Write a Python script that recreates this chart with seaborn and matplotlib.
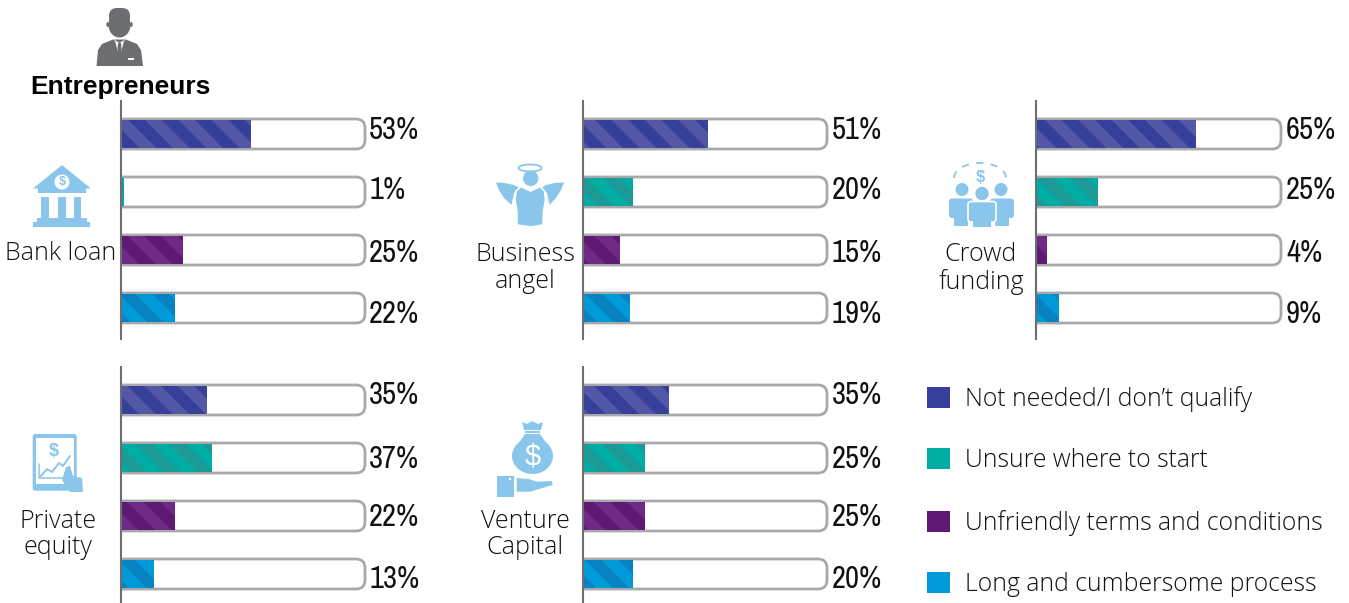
import numpy as np
import pandas as pd
import matplotlib
matplotlib.use("Agg")
import matplotlib.pyplot as plt
import matplotlib.hatch as mhatch
from matplotlib import font_manager as fm
from matplotlib.patches import Circle, Ellipse, Polygon, FancyBboxPatch, Rectangle, Arc, Patch
from matplotlib.path import Path
import seaborn as sns

# ---------- data ----------
reasons = ["Not needed/I don\u2019t qualify", "Unsure where to start",
           "Unfriendly terms and conditions", "Long and cumbersome process"]
bank_loan = [53, 1, 25, 22]
business_angel = [51, 20, 15, 19]
crowd_funding = [65, 25, 4, 9]
private_equity = [35, 37, 22, 13]
venture_capital = [35, 25, 25, 20]
title = "Entrepreneurs"
TRACK = 100

# ---------- style ----------
W, H = 1349, 603
fills = ["#36409A", "#00ADA3", "#5E1A73", "#009AD8"]
stripes = ["#5257A6", "#1B9A98", "#6F2A85", "#0783C2"]
ICON = "#8AC6EC"
GREY = "#6D6E71"
TRACKC = "#A7A9AC"
INK = "#111111"

sns.set_theme(style="white")
plt.rcParams["font.family"] = ["Liberation Sans", "DejaVu Sans"]
plt.rcParams["hatch.linewidth"] = 8.5

narrow = sorted({f.name for f in fm.fontManager.ttflist
                 if "narrow" in f.name.lower() or "condensed" in f.name.lower()})
cond = [f.name for f in fm.fontManager.ttflist
        if f.stretch in ("condensed", "semi-condensed", "extra-condensed", 75, 62, 87, 50)]
if narrow:
    VALUE_FONT = dict(family=[narrow[0], "Liberation Sans"], fontsize=22)
elif cond:
    VALUE_FONT = dict(family=[cond[0], "Liberation Sans"], stretch="condensed", fontsize=22)
else:
    VALUE_FONT = dict(family=["Liberation Sans"], fontsize=18.5)


class WideStripe(mhatch.HatchPatternBase):
    """Wide diagonal stripes, three per hatch tile."""
    def __init__(self, hatch, density):
        self.steps = np.arange(-6, 7) / 3 if "\\" in (hatch or "") else np.array([])
        self.num_vertices = len(self.steps) * 2

    def set_vertices_and_codes(self, vertices, codes):
        vertices[0::2, 0] = self.steps - 0.5
        vertices[0::2, 1] = 1.5
        vertices[1::2, 0] = self.steps + 1.5
        vertices[1::2, 1] = -0.5
        codes[0::2] = Path.MOVETO
        codes[1::2] = Path.LINETO


mhatch._hatch_types[:] = [WideStripe]

fig = plt.figure(figsize=(W / 100, H / 100), dpi=100, facecolor="white")


def panel(values, left, top, bottom, centre0, offsets, x_px, gap):
    width = TRACK * x_px + 2
    ax = fig.add_axes([left / W, 1 - bottom / H, width / W, (bottom - top) / H])
    frame = pd.DataFrame({"reason": reasons, "value": values})
    sns.barplot(data=frame, y="reason", x="value", hue="reason", hue_order=reasons,
                palette=fills, order=reasons, orient="h", width=0.48,
                dodge=False, legend=False, ax=ax, saturation=1, zorder=3)
    for bar, c in zip(ax.patches, stripes):
        bar.set_hatch("\\")
        bar.set_edgecolor(c)
        bar.set_linewidth(0)
    ax.set_xlim(0, width / x_px)
    ax.set_ylim((bottom - centre0) / 58, (top - centre0) / 58)
    for i, v in enumerate(values):
        ax.add_patch(FancyBboxPatch((-5, i - 15 / 58), TRACK + 5, 30 / 58,
                                    boxstyle=f"round,pad=0,rounding_size={9 / x_px}",
                                    mutation_aspect=x_px / 58, fc="white", ec=TRACKC,
                                    lw=2.0, zorder=2))
        ax.annotate(f"{v}%", xy=(TRACK, i), xytext=(gap, -offsets[i] - 1),
                    textcoords="offset pixels", ha="left", va="center",
                    color=INK, annotation_clip=False, **VALUE_FONT)
    ax.set_xlabel("")
    ax.set_ylabel("")
    ax.set_xticks([])
    ax.set_yticks([])
    for s in ["top", "right", "bottom"]:
        ax.spines[s].set_visible(False)
    ax.spines["left"].set_color(GREY)
    ax.spines["left"].set_linewidth(1.5)
    ax.spines["left"].set_capstyle("butt")
    ax.spines["left"].set_position(("outward", 0.8))
    ax.spines["left"].set_zorder(6)
    return ax


top_off = [-5, -3, 2, 5]
low_off = [-6, 0, 0, 4]
panel(bank_loan, 122, 100, 340, 134, top_off, 2.43, 4)
panel(business_angel, 584, 100, 340, 134, top_off, 2.43, 5)
panel(crowd_funding, 1037, 100, 340, 134, top_off, 2.44, 5)
panel(private_equity, 122, 366, 603, 400, low_off, 2.43, 4)
panel(venture_capital, 584, 366, 603, 400, low_off, 2.43, 5)

# ---------- overlay in pixel coordinates: icons and labels ----------
ov = fig.add_axes([0, 0, 1, 1], zorder=10)
ov.set_xlim(0, W)
ov.set_ylim(H, 0)
ov.axis("off")
ov.patch.set_alpha(0)


def poly(points, color=ICON, **kw):
    ov.add_patch(Polygon(points, closed=True, fc=color, ec=kw.pop("ec", "none"), **kw))


def rrect(x0, y0, x1, y1, r, color=ICON, z=1, ec="none", lw=0):
    ov.add_patch(FancyBboxPatch((x0, y0), x1 - x0, y1 - y0,
                                boxstyle=f"round,pad=0,rounding_size={r}",
                                fc=color, ec=ec, lw=lw, zorder=z))


def dollar(x, y, size, color, weight="bold"):
    ov.text(x, y, "$", fontsize=size, color=color, ha="center", va="center",
            fontweight=weight, zorder=6)


# entrepreneur
rrect(109, 8, 130, 26, 8, GREY)
ov.add_patch(Ellipse((119.5, 25), 22, 25, fc=GREY, ec="none"))
ov.add_patch(Ellipse((107.8, 24.5), 3, 5, fc=GREY, ec="none"))
ov.add_patch(Ellipse((131.2, 24.5), 3, 5, fc=GREY, ec="none"))
poly([(96.5, 66), (98, 50), (102, 44), (113, 39.5), (126, 39.5), (137, 44),
      (141, 50), (143, 66)], GREY)
poly([(113, 39), (119.5, 43), (126, 39), (124, 41), (120, 56), (119, 56), (115, 41)], "white")
poly([(118, 43), (121, 43), (122, 55), (119.5, 57), (117, 55)], GREY)
ov.add_patch(Rectangle((127.5, 58), 6, 2, fc="white", ec="none"))

# bank
poly([(62, 165), (91, 188.5), (33, 188.5)])
ov.add_patch(Rectangle((38, 188), 48, 5, fc=ICON, ec="none"))
ov.add_patch(Circle((62, 182), 7.5, fc="white", ec="none", zorder=3))
dollar(62, 182, 9, ICON)
for x0, x1 in [(41, 49), (58, 66), (74, 81)]:
    ov.add_patch(Rectangle((x0, 197), x1 - x0, 21, fc=ICON, ec="none"))
ov.add_patch(Rectangle((37, 218), 50, 4, fc=ICON, ec="none"))
ov.add_patch(Rectangle((33, 222), 57, 5, fc=ICON, ec="none"))

# angel
ov.add_patch(Ellipse((530, 168), 23, 7, fc="none", ec=ICON, lw=1.3))
ov.add_patch(Circle((530.7, 178.3), 7.7, fc=ICON, ec="none", zorder=4))
poly([(496, 182.5), (505, 183), (514, 185), (520, 188), (514, 193), (511.5, 205),
      (504, 198), (499, 190)], zorder=2)
poly([(564, 182.5), (555, 183), (546, 185), (541, 188), (547, 193), (549.5, 205),
      (556, 198), (561, 190)], zorder=2)
poly([(521, 186.5), (530.5, 191), (540, 186.5), (544.5, 191), (545.5, 200), (543.5, 212),
      (543, 225), (531, 227), (517, 225), (517, 212), (515, 200), (516, 191)],
     zorder=3, ec="white", lw=1.2)

# crowd
ov.add_patch(Arc((980, 178), 52, 30, theta1=180, theta2=360, ec=ICON, lw=1.3, ls=(0, (4, 4))))
dollar(980, 177, 12, ICON)
ov.add_patch(Circle((962, 189.5), 6.5, fc=ICON, ec="none"))
ov.add_patch(Circle((1001, 189.5), 6.5, fc=ICON, ec="none"))
ov.add_patch(Circle((982, 193.5), 6.7, fc=ICON, ec="none", zorder=3))
rrect(949, 198.5, 973, 218, 3)
rrect(990, 198.5, 1014, 218, 3)
poly([(954, 210), (968, 210), (968, 226), (954, 226)])
poly([(995, 210), (1009, 210), (1009, 226), (995, 226)])
rrect(968, 201.5, 996, 222, 3, z=3, ec="white", lw=1.2)
ov.add_patch(Rectangle((973, 212), 18, 15, fc=ICON, ec="none", zorder=4))

# tablet
rrect(32.7, 434, 76.7, 490.7, 2.5)
ov.add_patch(Rectangle((35.5, 437.5), 38.5, 46.5, fc="white", ec="none", zorder=2))
dollar(54, 452, 13, ICON)
ov.plot([39, 39, 66], [464, 478, 478], color=ICON, lw=1.1, zorder=3)
ov.plot([40, 47, 52, 59, 63, 70], [477, 469, 472, 463, 466, 456], color=ICON, lw=1.4, zorder=3)
poly([(66, 467), (70, 466), (73, 476), (82, 478), (83, 492), (70, 492), (62, 480)], ICON, zorder=5)

# venture capital
ov.add_patch(Ellipse((532.5, 456), 41, 36, fc=ICON, ec="none"))
poly([(525, 434), (540, 434), (549, 447), (516, 447)])
ov.add_patch(Rectangle((525, 431), 15, 2.2, fc=ICON, ec="none", zorder=2))
poly([(522, 422), (527, 424), (532, 421), (538, 424), (543, 422), (541, 430), (524, 430)])
dollar(532.7, 456.5, 21, "white", "normal")
ov.add_patch(Rectangle((497, 476), 17, 21, fc=ICON, ec="none"))
ov.add_patch(Circle((510, 479), 1.2, fc="white", ec="none", zorder=3))
poly([(516.7, 478), (530, 479.3), (536.7, 481.7), (551.7, 481), (552.7, 485),
      (530, 491.7), (516.7, 491.7)])

# texts
LABEL = dict(fontsize=18, color=INK, ha="center", va="center",
             family=["Open Sans", "DejaVu Sans"], fontweight="light")
ov.text(60.5, 254, "Bank loan", **LABEL)
ov.text(525.5, 254.5, "Business", **LABEL)
ov.text(525.5, 282, "angel", **LABEL)
ov.text(981, 254.5, "Crowd", **LABEL)
ov.text(981, 282, "funding", **LABEL)
ov.text(58, 521.5, "Private", **LABEL)
ov.text(58, 548, "equity", **LABEL)
ov.text(525, 521.5, "Venture", **LABEL)
ov.text(525, 548, "Capital", **LABEL)
ov.text(120, 87, title, fontsize=19, fontweight="bold", color="black",
        ha="center", va="center", family=["Liberation Sans", "DejaVu Sans"])

# legend
handles = [Patch(fc=c, ec="none", label=r) for c, r in zip(fills, reasons)]
leg = fig.legend(handles=handles, loc="upper left", bbox_to_anchor=(927 / W, 1 - 386 / H),
                 bbox_transform=fig.transFigure, frameon=False, borderpad=0, borderaxespad=0,
                 handlelength=0.93, handleheight=0.93, handletextpad=0.61, labelspacing=1.47,
                 prop={"family": ["Open Sans", "DejaVu Sans"], "size": 17.8, "weight": "light"},
                 labelcolor=INK)

fig.savefig("out.png", dpi=100, facecolor="white")
